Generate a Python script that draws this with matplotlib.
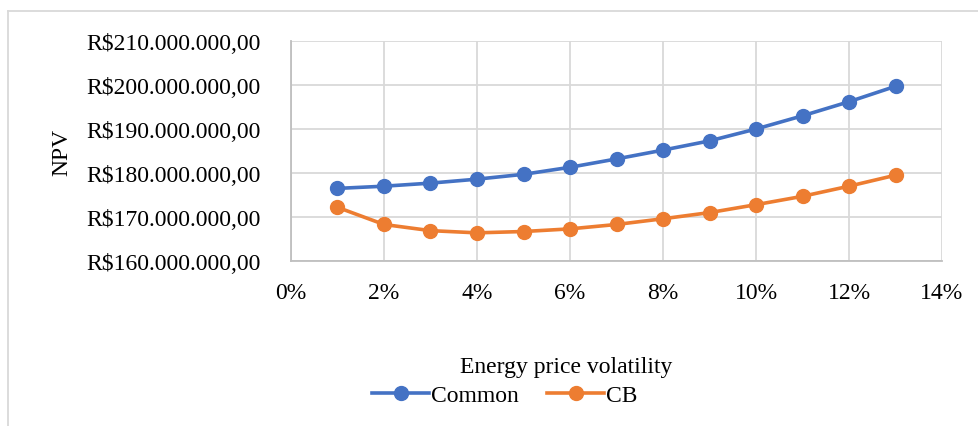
import numpy as np
import matplotlib.pyplot as plt
from matplotlib.lines import Line2D
from matplotlib.ticker import FuncFormatter, MultipleLocator

plt.rcParams['font.family'] = ['Liberation Serif', 'DejaVu Serif']

# volatility (%) and NPV (millions of R$)
volatility = [1, 2, 3, 4, 5, 6, 7, 8, 9, 10, 11, 12, 13]
npv_common = [176.5, 177.0, 177.7, 178.6, 179.7, 181.3, 183.2, 185.2, 187.3, 190.0, 193.0, 196.2, 199.7]
npv_cb = [172.2, 168.3, 166.9, 166.4, 166.7, 167.3, 168.3, 169.6, 171.0, 172.8, 174.7, 177.0, 179.5]

W, H = 979, 427
fig = plt.figure(figsize=(W / 100, H / 100), dpi=100)
ax = fig.add_axes([291 / W, 1 - 262 / H, (942 - 291) / W, (262 - 42) / H])

blue = '#4472C4'
orange = '#ED7D31'
x = np.array(volatility) / 100
ax.plot(x, np.array(npv_common) * 1e6, color=blue, lw=2.6, marker='o', ms=10, label='Common', zorder=3)
ax.plot(x, np.array(npv_cb) * 1e6, color=orange, lw=2.6, marker='o', ms=10, label='CB', zorder=3)

ax.set_xlim(0, 0.14)
ax.set_ylim(160e6, 210e6)
ax.xaxis.set_major_locator(MultipleLocator(0.02))
ax.yaxis.set_major_locator(MultipleLocator(10e6))
ax.xaxis.set_major_formatter(FuncFormatter(lambda v, p: '{:.0f}%'.format(v * 100)))


def brl(v, p):
    s = '{:,.2f}'.format(v)
    s = s.replace(',', 'X').replace('.', ',').replace('X', '.')
    return 'R$' + s


ax.yaxis.set_major_formatter(FuncFormatter(brl))
ax.tick_params(length=0, labelsize=17, colors='black')
ax.tick_params(axis='y', pad=22)
ax.tick_params(axis='x', pad=15)
ax.grid(True, color='#D9D9D9', lw=1.3)
ax.set_axisbelow(True)
for side in ['top', 'right']:
    ax.spines[side].set_visible(False)
for side in ['left', 'bottom']:
    ax.spines[side].set_color('#BFBFBF')
    ax.spines[side].set_linewidth(1.3)

fig.text(62 / W, 1 - 152 / H, 'NPV', rotation=90, fontsize=17, ha='center', va='center')
fig.text(566 / W, 1 - 368 / H, 'Energy price volatility', fontsize=17, ha='center', va='center')

handles = [
    Line2D([], [], color=blue, lw=2.6, marker='o', ms=10),
    Line2D([], [], color=orange, lw=2.6, marker='o', ms=10),
]
fig.legend(handles, ['Common', 'CB'], loc='center', bbox_to_anchor=(505 / W, 1 - 396 / H),
           ncol=2, frameon=False, fontsize=17, handlelength=2.4, handletextpad=0.1,
           columnspacing=1.2, borderpad=0)

# outer chart border
fig.add_artist(Line2D([8 / W, 1], [1 - 12 / H, 1 - 12 / H], color='#D9D9D9', lw=1.3))
fig.add_artist(Line2D([8 / W, 8 / W], [0, 1 - 12 / H], color='#D9D9D9', lw=1.3))

fig.savefig('out.png', dpi=100, facecolor='white')
